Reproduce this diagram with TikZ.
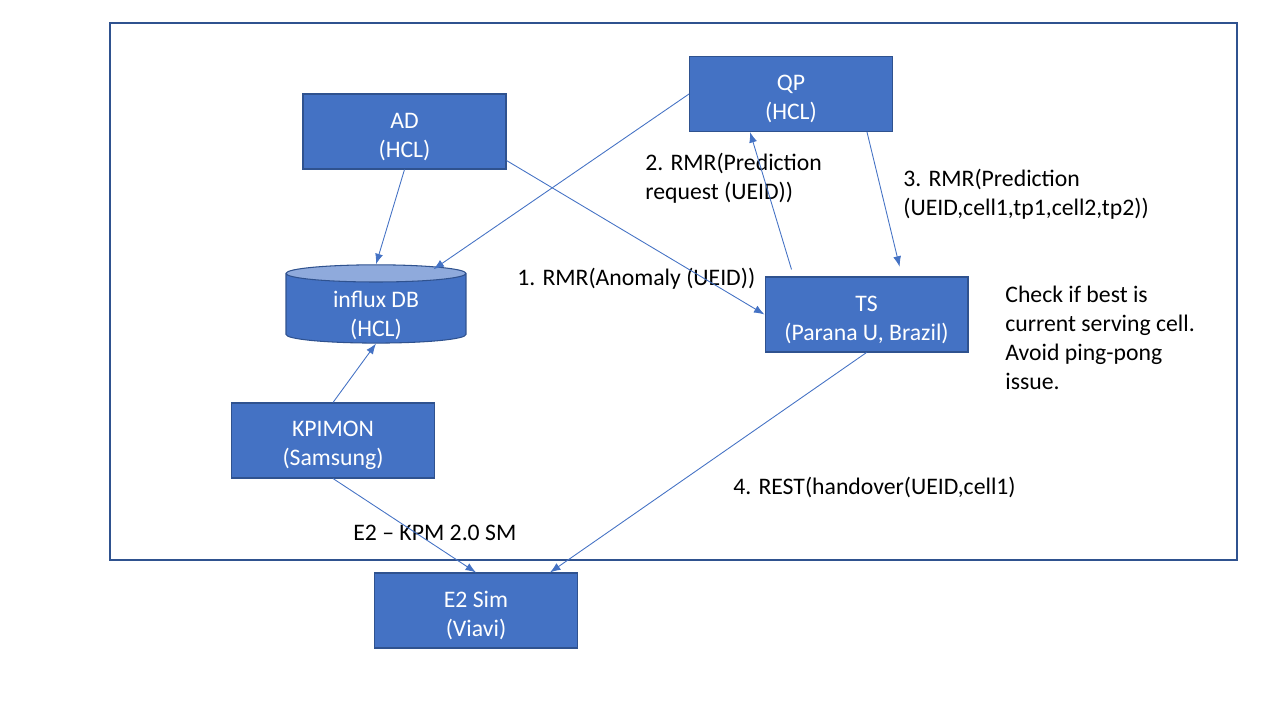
\documentclass[tikz,border=0pt]{standalone}
\usepackage{fontspec}
\setmainfont{Carlito}
\usepackage{xcolor}
\usetikzlibrary{arrows.meta,positioning,calc,shapes.geometric}
\definecolor{boxblue}{HTML}{4472C4}
\definecolor{edgeblue}{HTML}{2F528F}
\definecolor{lidblue}{HTML}{8FAADC}

\begin{document}
\begin{tikzpicture}[x=0.02cm,y=-0.02cm,>={Latex[length=6pt,width=4.5pt]},font=\fontsize{13.5}{16.4}\selectfont]
  \tikzstyle{ricbox}=[draw=edgeblue,fill=boxblue,text=white,align=center,minimum width=4.06cm,minimum height=1.5cm,line width=0.6pt,text height=31pt]
  \tikzstyle{msg}=[align=left,anchor=north west,inner sep=0pt]
  \tikzstyle{link}=[->,draw=boxblue,line width=0.5pt]
  \useasboundingbox (0,0) rectangle (1280,720);
  \draw[edgeblue,line width=0.9pt] (110,23) rectangle (1237,560);
  \node[ricbox] (ad) at (404.5,131.5) {AD\\(HCL)};
  \node[ricbox] (qp) at (791,94) {QP\\(HCL)};
  \node[ricbox] (ts) at (866.5,314.5) {TS\\(Parana U, Brazil)};
  \node[ricbox] (kpimon) at (333,440.5) {KPIMON\\(Samsung)};
  \node[ricbox] (e2sim) at (476,610.5) {E2 Sim\\(Viavi)};
  \node[cylinder,shape border rotate=90,aspect=0.2,draw=edgeblue,line width=0.6pt,
        cylinder uses custom fill,cylinder body fill=boxblue,cylinder end fill=lidblue,
        text=white,align=center,minimum width=3.6cm,minimum height=1.46cm,inner xsep=0pt,inner ysep=-2.9pt,text height=33.5pt] (influx) at (376,308.5) {influx DB\\(HCL)};
  % message labels
  \node[msg] (m1) at (517,268) {1. RMR(Anomaly (UEID))};
  \node[msg] (m2) at (645,153) {2. RMR(Prediction\\request (UEID))};
  \node[msg] (m3) at (903,169) {3. RMR(Prediction\\(UEID,cell1,tp1,cell2,tp2))};
  \node[msg] (m4) at (733,477) {4. REST(handover(UEID,cell1)};
  \node[msg] (e2kpm) at (353,525) {E2 -- KPM 2.0 SM};
  \node[msg] (note) at (1005,286) {Check if best is\\current serving cell.\\Avoid ping-pong\\issue.};
  % connectors
  \draw[link] (ad.south) -- (influx.north);
  \draw[link] (qp.west) -- ([xshift=1.15cm,yshift=-0.1cm]influx.north);
  \draw[link] ([yshift=0.18cm]ad.south east) -- (ts.west);
  \draw[link] ([xshift=-1.5cm,yshift=0.14cm]ts.north) -- ([xshift=-0.82cm]qp.south);
  \draw[link,shorten >=0.2cm] ([xshift=1.52cm]qp.south) -- ([xshift=0.71cm]ts.north);
  \draw[link] (kpimon.north) -- (influx.south);
  \draw[link] (kpimon.south) -- (e2sim.north);
  \draw[link] (ts.south) -- ([xshift=1.48cm]e2sim.north);
\end{tikzpicture}
\end{document}
